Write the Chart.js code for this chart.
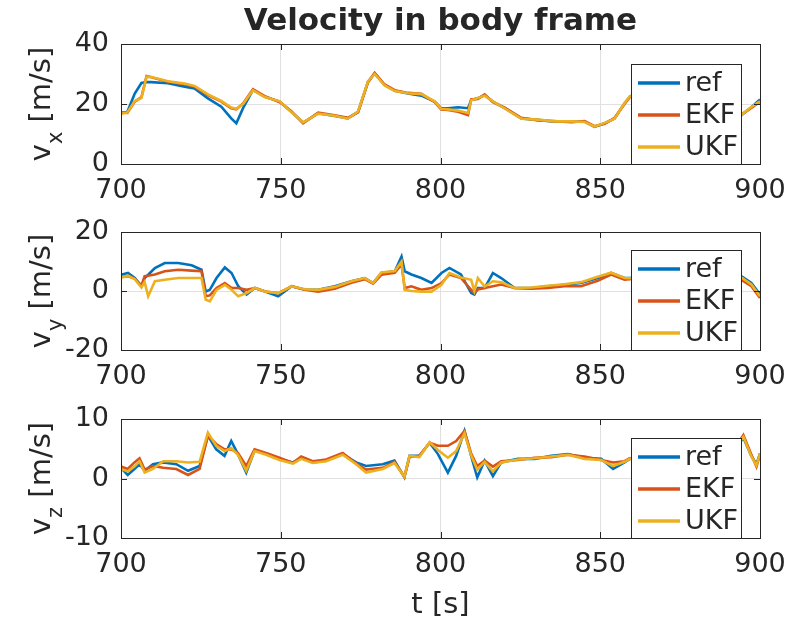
<!DOCTYPE html>
<html><head><meta charset="utf-8">
<script src="https://cdn.jsdelivr.net/npm/chart.js@4.4.1/dist/chart.umd.min.js"></script>
<style>
html,body{margin:0;padding:0;background:#fff;}
#wrap{position:relative;width:790px;height:623px;overflow:hidden;background:#fff;}
canvas{position:absolute;left:0;}
</style></head><body>
<div id="wrap">
<canvas id="c1" style="top:0px" width="850" height="210"></canvas>
<canvas id="c2" style="top:170px" width="850" height="230"></canvas>
<canvas id="c3" style="top:360px" width="850" height="263"></canvas>
</div>
<script>
// ---------- data ----------
const seriesNames = ['ref', 'EKF', 'UKF'];
const xTicks = [700, 750, 800, 850, 900];

const tX = [700,702,704.3,706.4,708,709.5,714.7,719.9,723,727.2,731.4,734.5,736.1,738.2,741.3,745,749.7,753.3,757,761.7,766.9,771,774.2,777.3,779.4,782.5,785.7,789.8,794,798.2,800.2,802.3,805.5,808.6,809.6,811.7,813.8,816.4,820.1,825.3,830.5,835.7,840.9,845.1,848.2,851.4,854.5,857.6,859.2,862,868,875,882,888,894.2,897.3,900];
const vxRef = [16.9,17.4,23.5,27,27.3,27.3,26.9,25.8,25.2,21.9,19.1,15.2,13.6,18.6,24.7,22.4,20.8,17.4,13.8,16.9,16,15.2,17.4,27.4,30.2,26.3,24.4,23.5,22.8,20.8,18.6,18.6,18.9,18.6,21.3,21.9,23,20.8,18.6,15.2,14.7,14.1,14.1,14.1,12.4,13.6,15.2,20.2,22.4,24,23,21,19,17,16.3,18.9,21.5];
const vxEKF = [17.2,17,20.8,22.3,29.3,28.9,27.4,26.6,25.8,23,20.8,18.6,18.2,20.2,24.9,22.6,20.6,17.6,13.6,17.1,16.2,15.4,17.2,27.2,30.4,26.5,24.6,23.7,23.4,20.6,18.2,18,17.4,16.3,21.5,21.7,23.2,20.6,18.8,15.4,14.5,14.3,13.9,14.3,12.6,13.4,15.4,20,22.2,24,23,21,19,17,16.5,18.7,20.8];
const vxUKF = [16.7,17.2,21,22,29.1,29,27.6,26.8,26,23.2,21,18.8,18.4,20,24.6,22.3,20.9,17.3,13.9,16.8,16.1,15.1,17.5,27.5,30,26.2,24.3,23.6,23.3,20.9,18.4,18.2,17.8,17,21.2,22,22.8,20.9,18.5,15.1,14.8,14.2,14.2,14,12.5,13.7,15.1,20.3,22.5,24,23,21,19,17,16.4,19,20.9];

const tY = [700,702.2,704.3,706.4,707.4,708.5,710.6,713.7,717.9,722.1,725.2,726.5,727.8,729.9,732.5,734.6,736.7,739.3,741.9,745.1,749.2,753.4,757.6,761.7,766.9,772.1,776.3,778.9,781.5,785.7,787.8,788.8,790.9,794,797.2,800.3,802.8,806.4,809.6,810.6,811.7,813.8,816.4,819,823.2,828.4,833.6,838.8,844,849.2,853.4,857.6,859.2,865,872,880,888,894.2,897.3,900];
const vyRef = [5.5,6.1,4.4,1.6,4.4,5.5,7.8,9.5,9.5,8.7,7.2,-0.2,0.4,4.4,8,6.1,1.6,-1.2,1,-0.2,-1.8,1.6,0.4,0.4,1.6,3.3,4.4,2.7,6.1,6.7,11.7,6.7,5.6,4.4,2.7,6.1,7.8,5.6,-0.7,-1.2,1,1,6.1,4.4,1,1,1.6,2.1,2.7,4.4,6.1,4.4,4.4,5,4.5,5,5.5,5,2.7,-1.2];
const vyEKF = [4.8,5,4.2,1.8,5,5.2,5.6,6.7,7.2,6.9,6.7,-1.8,-1.5,1,2.7,1,1,0.4,1,-0.2,-0.7,1.6,0.4,-0.2,0.8,2.8,4,2.5,5.5,6.2,9,1,1.6,0.4,1,2.7,5.6,4.4,0.4,-0.5,0.5,1,1.6,2.2,1,0.8,1,1.6,1.6,3.5,5.6,3.8,4,4.5,4,4.5,5,3.8,1.6,-2.4];
const vyUKF = [4.5,5.2,4,1.2,3,-1.8,3.3,3.8,4.4,4.4,4.4,-2.9,-3.5,0.4,2.1,0.4,-1.8,-0.7,1,-0.2,-0.7,1.6,0.6,0.4,1.4,3.3,4.4,2.7,6.3,6.8,10,0.4,0,-0.2,-0.2,2.1,6.1,4.6,3.8,0,4.4,1.5,3.3,3,1,1.2,1.8,2.3,3,4.8,6.2,4.4,4.3,4.8,4.3,4.8,5.3,4.6,2.2,-1.8];

const tZ = [700,702.1,704.2,705.8,707.4,710,713.2,717.3,721,724.6,727.2,729.8,732.4,734.5,736.6,739.2,741.8,745.4,749.6,753.8,756.4,760,764.2,769.4,773.6,776.7,781.9,785.6,788.7,790.3,793.4,796.6,799.2,802.3,804.9,807.5,809.6,811.5,813.8,816.4,819,824.2,829.5,834.7,839.9,845.1,850.3,854,857.6,859.2,865,875,885,892,894.8,897.3,898.9,900];
const vzRef = [1.8,0.6,1.6,2.4,1.3,2.4,2.7,2.4,1.3,2.1,7.2,4.9,3.8,6.3,4.1,1,4.7,4.1,3.3,2.7,3.5,2.7,3,4.1,2.7,2.1,2.4,3,0.2,3.8,3.8,6,4.1,1,3.8,8,3.8,0.2,3,0.4,2.7,3.3,3.3,3.8,4.1,3.5,3.3,1.6,2.7,3.3,3.5,3,3.5,5,6.8,3.8,2.4,4.2];
const vzEKF = [2,1.6,2.7,3.4,1.5,2.1,1.8,1.6,0.6,1.6,7.2,5.8,4.9,4.9,4.3,2.1,4.9,4.3,3.5,2.6,3.7,2.9,3.2,4.3,2.5,1.5,1.8,2.8,0.3,3.6,3.8,6,5.5,5.5,6.3,8,4.2,2.1,3,2,2.9,3.1,3.5,3.6,4,3.7,3.1,2.7,2.9,3.4,3.5,3,3.5,5,7.3,4,2.0,4];
const vzUKF = [1.6,1.2,2.0,2.9,1.0,1.6,2.9,2.9,2.7,2.8,7.7,5.5,4.6,5.1,4,1.3,4.6,4,3.1,2.5,3.3,2.6,2.9,4,2.4,1.0,1.6,2.6,0.3,3.8,3.6,6.1,4.8,3.5,4.6,7.6,3.9,1.5,2.8,1.2,2.7,3.2,3.4,3.7,4,3.3,3.1,2.1,2.8,3.3,3.5,3,3.5,5,7,3.7,2.2,4.2];

const yTicksX = [0, 20, 40];
const yTicksY = [-20, 0, 20];
const yTicksZ = [-10, 0, 10];

// ---------- styling ----------
const FONT = '"DejaVu Sans", sans-serif';
const TXT = '#262626';
const COLORS = ['#0072BD', '#D95319', '#EDB120'];
const GRID = '#e0e0e0';
const TICK_PX = 27, LABEL_PX = 29, TITLE_PX = 31, LEG_PX = 27;
const AREA_LEFT = 121, AREA_RIGHT = 760;

function pts(t, v) { return t.map((x, i) => ({x: x, y: v[i]})); }

const framePlugin = {
  id: 'frame',
  afterDatasetsDraw(chart, args, opts) {
    const ctx = chart.ctx, a = chart.chartArea;
    const xs = chart.scales.x, ys = chart.scales.y;
    ctx.save();
    ctx.strokeStyle = TXT; ctx.lineWidth = 1;
    const L = 6;
    ctx.beginPath();
    xs.ticks.forEach(tk => {
      const px = Math.round(xs.getPixelForValue(tk.value)) + 0.5;
      ctx.moveTo(px, a.bottom); ctx.lineTo(px, a.bottom - L);
      ctx.moveTo(px, a.top); ctx.lineTo(px, a.top + L);
    });
    ys.ticks.forEach(tk => {
      const py = Math.round(ys.getPixelForValue(tk.value)) + 0.5;
      ctx.moveTo(a.left, py); ctx.lineTo(a.left + L, py);
      ctx.moveTo(a.right, py); ctx.lineTo(a.right - L, py);
    });
    ctx.stroke();
    ctx.strokeRect(Math.round(a.left) + 0.5, Math.round(a.top) + 0.5, Math.round(a.right - a.left), Math.round(a.bottom - a.top));
    // legend
    const bx = 631, bw = 110, bh = 100, by = Math.round(a.bottom) - bh;
    ctx.fillStyle = '#fff';
    ctx.fillRect(bx, by, bw, bh);
    ctx.strokeRect(bx + 0.5, by + 0.5, bw, bh);
    const rows = [19, 51, 83];
    chart.data.datasets.forEach((ds, i) => {
      const yy = by + rows[i];
      ctx.strokeStyle = ds.borderColor; ctx.lineWidth = 3.5;
      ctx.beginPath(); ctx.moveTo(638, yy); ctx.lineTo(680, yy); ctx.stroke();
      ctx.fillStyle = TXT; ctx.font = LEG_PX + 'px ' + FONT;
      ctx.textAlign = 'left'; ctx.textBaseline = 'middle';
      ctx.fillText(ds.label, 685, yy + 1);
    });
    ctx.restore();
  },
  afterDraw(chart, args, opts) {
    const ctx = chart.ctx, a = chart.chartArea;
    ctx.save();
    ctx.fillStyle = TXT;
    // y label with subscript
    ctx.translate(50, (a.top + a.bottom) / 2);
    ctx.rotate(-Math.PI / 2);
    ctx.textBaseline = 'alphabetic'; ctx.textAlign = 'left';
    const f1 = LABEL_PX + 'px ' + FONT, f2 = Math.round(LABEL_PX * 0.72) + 'px ' + FONT;
    const main = 'v', sub = opts.sub, rest = ' [m/s]';
    ctx.font = f1; const w1 = ctx.measureText(main).width, w3 = ctx.measureText(rest).width;
    ctx.font = f2; const w2 = ctx.measureText(sub).width;
    let x = -(w1 + w2 + w3) / 2;
    ctx.font = f1; ctx.fillText(main, x, 0); x += w1;
    ctx.font = f2; ctx.fillText(sub, x, LABEL_PX * 0.42); x += w2;
    ctx.font = f1; ctx.fillText(rest, x, 0);
    ctx.restore();
    ctx.save();
    ctx.fillStyle = TXT; ctx.textAlign = 'center'; ctx.textBaseline = 'alphabetic';
    if (opts.title) {
      ctx.font = 'bold ' + TITLE_PX + 'px ' + FONT;
      ctx.fillText(opts.title, (a.left + a.right) / 2, opts.titleY);
    }
    if (opts.xlabel) {
      ctx.font = LABEL_PX + 'px ' + FONT;
      ctx.fillText(opts.xlabel, (a.left + a.right) / 2, opts.xlabelY);
    }
    ctx.restore();
  }
};

function makeChart(id, H, top, bottom, t, vals, yTicks, sub, extra) {
  const datasets = vals.map((v, i) => ({
    label: seriesNames[i],
    data: pts(t, v),
    borderColor: COLORS[i],
    backgroundColor: COLORS[i],
    borderWidth: 2.6,
    pointRadius: 0,
    tension: 0,
    fill: false,
    order: 3 - i
  }));
  const W = 850;
  const chart = new Chart(document.getElementById(id), {
    type: 'line',
    data: {datasets},
    options: {
      responsive: false, animation: false, devicePixelRatio: 1,
      layout: {padding: {top: top, left: 0, right: W - AREA_RIGHT, bottom: 0}},
      plugins: {
        legend: {display: false}, tooltip: {enabled: false},
        frame: Object.assign({sub: sub}, extra)
      },
      scales: {
        x: {
          type: 'linear', min: xTicks[0], max: xTicks[xTicks.length - 1],
          afterBuildTicks: s => { s.ticks = xTicks.map(v => ({value: v})); },
          afterFit: s => { s.height = H - bottom; },
          grid: {color: GRID, lineWidth: 1, drawTicks: false},
          border: {display: false},
          ticks: {color: TXT, font: {family: FONT, size: TICK_PX}, padding: 11, maxRotation: 0, autoSkip: false}
        },
        y: {
          type: 'linear', min: yTicks[0], max: yTicks[yTicks.length - 1],
          afterBuildTicks: s => { s.ticks = yTicks.map(v => ({value: v})); },
          afterFit: s => { s.width = AREA_LEFT; },
          grid: {color: GRID, lineWidth: 1, drawTicks: false},
          border: {display: false},
          ticks: {color: TXT, font: {family: FONT, size: TICK_PX}, padding: 12}
        }
      }
    },
    plugins: [framePlugin]
  });
  // nudge the layout so the plot box lands where the reference has it
  for (let k = 0; k < 3; k++) {
    const a = chart.chartArea, p = chart.options.layout.padding;
    const dt = top - a.top, dr = a.right - AREA_RIGHT;
    if (Math.abs(dt) < 0.5 && Math.abs(dr) < 0.5) break;
    p.top += dt; p.right += dr;
    chart.update();
  }
  return chart;
}

makeChart('c1', 210, 44, 164, tX, [vxRef, vxEKF, vxUKF], yTicksX, 'x', {title: 'Velocity in body frame', titleY: 30});
makeChart('c2', 230, 62, 180, tY, [vyRef, vyEKF, vyUKF], yTicksY, 'y', {});
makeChart('c3', 263, 59, 178, tZ, [vzRef, vzEKF, vzUKF], yTicksZ, 'z', {xlabel: 't [s]', xlabelY: 253});
</script>
</body></html>
